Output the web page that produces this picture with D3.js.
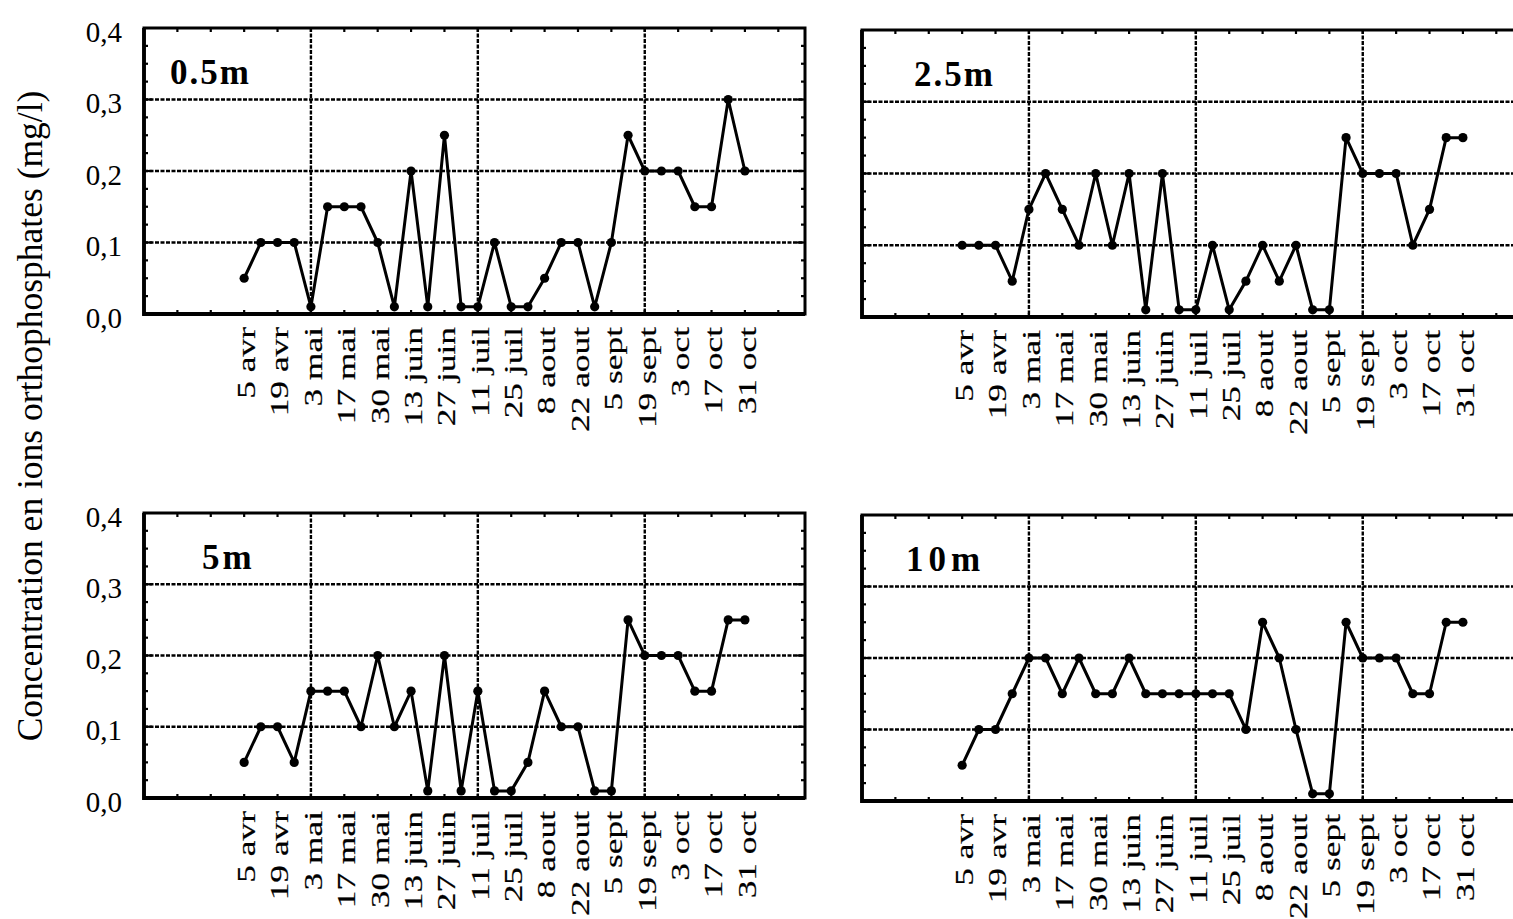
<!DOCTYPE html>
<html>
<head>
<meta charset="utf-8">
<script src="https://cdn.jsdelivr.net/npm/d3@7/dist/d3.min.js"></script>
<style>
  body { margin: 0; background: #fff; }
  svg text { font-family: "Liberation Serif", "Times New Roman", serif; fill: #000; }
</style>
</head>
<body>
<svg id="chart" width="1513" height="919"></svg>
<script>
// Weekly samples from 5 avr to 31 oct (31 samples); one date label every two weeks.
const dateLabels = ["5 avr", "19 avr", "3 mai", "17 mai", "30 mai", "13 juin", "27 juin", "11 juil",
                    "25 juil", "8 aout", "22 aout", "5 sept", "19 sept", "3 oct", "17 oct", "31 oct"];

// Orthophosphate concentration (mg/l) per depth
const conc05 = [0.05, 0.10, 0.10, 0.10, 0.01, 0.15, 0.15, 0.15, 0.10, 0.01, 0.20, 0.01, 0.25, 0.01, 0.01, 0.10,
                0.01, 0.01, 0.05, 0.10, 0.10, 0.01, 0.10, 0.25, 0.20, 0.20, 0.20, 0.15, 0.15, 0.30, 0.20];
const conc25 = [0.10, 0.10, 0.10, 0.05, 0.15, 0.20, 0.15, 0.10, 0.20, 0.10, 0.20, 0.01, 0.20, 0.01, 0.01, 0.10,
                0.01, 0.05, 0.10, 0.05, 0.10, 0.01, 0.01, 0.25, 0.20, 0.20, 0.20, 0.10, 0.15, 0.25, 0.25];
const conc5  = [0.05, 0.10, 0.10, 0.05, 0.15, 0.15, 0.15, 0.10, 0.20, 0.10, 0.15, 0.01, 0.20, 0.01, 0.15, 0.01,
                0.01, 0.05, 0.15, 0.10, 0.10, 0.01, 0.01, 0.25, 0.20, 0.20, 0.20, 0.15, 0.15, 0.25, 0.25];
const conc10 = [0.05, 0.10, 0.10, 0.15, 0.20, 0.20, 0.15, 0.20, 0.15, 0.15, 0.20, 0.15, 0.15, 0.15, 0.15, 0.15,
                0.15, 0.10, 0.25, 0.20, 0.10, 0.01, 0.01, 0.25, 0.20, 0.20, 0.20, 0.15, 0.15, 0.25, 0.25];

const depthNames = ["0.5m", "2.5m", "5m", "10m"];
const yTickValues = [0, 0.1, 0.2, 0.3, 0.4];
const yTitle = "Concentration en ions orthophosphates (mg/l)";

const frLocale = d3.formatLocale({ decimal: ",", thousands: " ", grouping: [3], currency: ["", " €"] });
const fmt = frLocale.format(".1f");

// Panel frames: [left, top, bottom]; all share the same width
const panelBoxes = [
  { left: 144, top: 28,  bottom: 314, yLabels: true,  labelX: 170, spacing: 2 },
  { left: 862, top: 30,  bottom: 317, yLabels: false, labelX: 914, spacing: 2 },
  { left: 144, top: 513, bottom: 798, yLabels: true,  labelX: 202, spacing: 3 },
  { left: 862, top: 515, bottom: 801, yLabels: false, labelX: 906, spacing: 5 }
];
const panelWidth = 661;
const xDomain = [-6, 33.6];
const series = [conc05, conc25, conc5, conc10];

const svg = d3.select("#chart");
svg.append("rect").attr("width", 1513).attr("height", 919).attr("fill", "#fff");

panelBoxes.forEach((box, p) => {
  const x = d3.scaleLinear().domain(xDomain).range([box.left, box.left + panelWidth]);
  const y = d3.scaleLinear().domain([0, 0.4]).range([box.bottom, box.top]);
  const g = svg.append("g");
  const right = box.left + panelWidth;

  // dashed grid
  const grid = g.append("g").attr("stroke", "#000").attr("stroke-width", 2.4).attr("stroke-dasharray", "4,1.5");
  [0.1, 0.2, 0.3].forEach(v => grid.append("line")
    .attr("x1", box.left).attr("x2", right).attr("y1", y(v)).attr("y2", y(v)));
  [4, 14, 24].forEach(i => grid.append("line")
    .attr("x1", x(i)).attr("x2", x(i)).attr("y1", box.top).attr("y2", box.bottom));

  // minor ticks along the frame
  const ticks = g.append("g").attr("stroke", "#000").attr("stroke-width", 2.2);
  d3.range(1, 16).forEach(k => {
    const v = k * 0.025;
    const len = (k % 4 === 0) ? 8 : 4;
    ticks.append("line").attr("x1", box.left).attr("x2", box.left + len).attr("y1", y(v)).attr("y2", y(v));
    ticks.append("line").attr("x1", right).attr("x2", right - len).attr("y1", y(v)).attr("y2", y(v));
  });
  d3.range(-4, 34, 2).forEach(i => {
    ticks.append("line").attr("x1", x(i)).attr("x2", x(i)).attr("y1", box.top).attr("y2", box.top + 4);
    ticks.append("line").attr("x1", x(i)).attr("x2", x(i)).attr("y1", box.bottom).attr("y2", box.bottom - 4);
  });

  // frame
  g.append("rect").attr("x", box.left).attr("y", box.top)
    .attr("width", panelWidth).attr("height", box.bottom - box.top)
    .attr("fill", "none").attr("stroke", "#000").attr("stroke-width", 3);
  g.append("path")
    .attr("d", `M${box.left},${box.top}V${box.bottom}H${right}`)
    .attr("fill", "none").attr("stroke", "#000").attr("stroke-width", 3.8);

  // data line and points
  const data = series[p];
  const line = d3.line().x((d, i) => x(i)).y(d => y(d));
  g.append("path").datum(data).attr("d", line)
    .attr("fill", "none").attr("stroke", "#000").attr("stroke-width", 3).attr("stroke-linejoin", "round");
  g.selectAll("circle.pt").data(data).join("circle").attr("class", "pt")
    .attr("cx", (d, i) => x(i)).attr("cy", d => y(d)).attr("r", 4.6).attr("fill", "#000");

  // depth label
  g.append("text").attr("x", box.labelX)
    .attr("y", box.top + 56)
    .attr("font-size", 35).attr("font-weight", "bold").attr("letter-spacing", box.spacing)
    .text(depthNames[p]);

  // y-axis tick labels
  if (box.yLabels) {
    const ya = g.append("g").attr("transform", `translate(${box.left - 22},0)`)
      .call(d3.axisLeft(y).tickValues(yTickValues).tickFormat(fmt).tickSize(0).tickPadding(0));
    ya.select(".domain").remove();
    ya.selectAll("text").attr("font-size", 29).attr("font-family", null).attr("dy", "0.45em");
  }

  // date labels, rotated, one every two samples
  const labelIdx = dateLabels.map((d, k) => k * 2);
  const xa = g.append("g").attr("transform", `translate(0,${box.bottom})`)
    .call(d3.axisBottom(x).tickValues(labelIdx).tickFormat(i => dateLabels[i / 2]).tickSize(0).tickPadding(0));
  xa.select(".domain").remove();
  xa.selectAll("text")
    .attr("font-size", 26).attr("font-family", null)
    .attr("x", 0).attr("y", 0).attr("dy", "0.36em")
    .attr("stroke", "#000").attr("stroke-width", 0.2)
    .attr("text-anchor", "end")
    .attr("transform", "translate(1,13) rotate(-90) scale(1.36,1)");
});

// shared y-axis title
svg.append("text")
  .attr("transform", "translate(42,416) rotate(-90)")
  .attr("text-anchor", "middle")
  .attr("font-size", 35.5)
  .text(yTitle);
</script>
</body>
</html>
